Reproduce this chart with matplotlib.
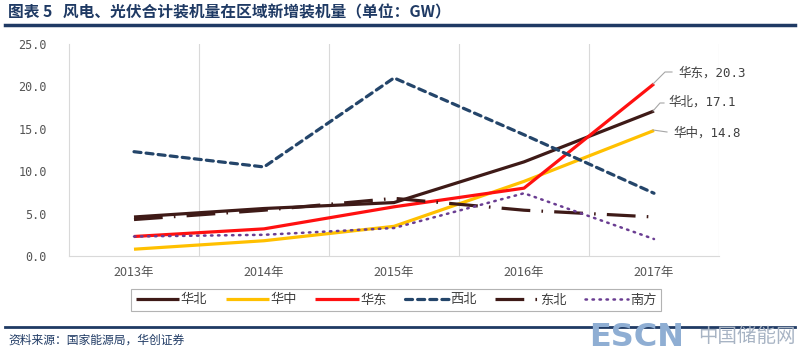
import matplotlib
matplotlib.use("Agg")
import matplotlib.pyplot as plt
from matplotlib.lines import Line2D

plt.rcParams['font.family'] = ['Noto Sans CJK SC', 'DejaVu Sans']

years = ['2013年', '2014年', '2015年', '2016年', '2017年']
huabei = [4.6, 5.6, 6.3, 11.1, 17.1]
huazhong = [0.8, 1.8, 3.5, 8.8, 14.8]
huadong = [2.3, 3.2, 5.8, 8.0, 20.3]
xibei = [12.3, 10.5, 21.0, 14.3, 7.4]
dongbei = [4.3, 5.4, 6.8, 5.4, 4.6]
nanfang = [2.3, 2.5, 3.3, 7.4, 2.0]
yticks = [0, 5, 10, 15, 20, 25]

fig = plt.figure(figsize=(8, 3.52), dpi=100)
ax = fig.add_axes([69/800, 1-256/352, 650/800, 212/352])

x = list(range(len(years)))
lw = 2.3
ax.plot(x, huabei, color='#3E1A17', lw=lw, label='华北', solid_capstyle='butt')
ax.plot(x, huazhong, color='#FFC000', lw=lw, label='华中', solid_capstyle='butt')
ax.plot(x, huadong, color='#FF1010', lw=lw, label='华东', solid_capstyle='butt')
ax.plot(x, xibei, color='#24456A', lw=lw, ls=(0, (2.2, 1.6)), label='西北', dash_capstyle='round')
ax.plot(x, dongbei, color='#3E1A17', lw=lw, ls=(0, (9, 3.5, 0.5, 3.5)), label='东北')
ax.plot(x, nanfang, color='#6A3D92', lw=1.8, ls=(0, (0.6, 2.2)), label='南方', dash_capstyle='round')

ax.set_xlim(-0.5, 4.5)
ax.set_ylim(0, 25)
ax.set_xticks(x)
ax.set_xticklabels(years, fontsize=9, color='#555555')
ax.set_yticks(yticks)
ax.set_yticklabels([f'{v:.1f}' for v in yticks], fontsize=8.5, color='#555555', family='DejaVu Sans Mono')
ax.set_xticks([0.5, 1.5, 2.5, 3.5, 4.5], minor=True)
ax.grid(True, which='minor', axis='x', color='#D9D9D9', lw=0.8)
ax.tick_params(which='both', length=0)
ax.tick_params(axis='y', pad=16)
ax.tick_params(axis='x', pad=7)
for s in ['top', 'right']:
    ax.spines[s].set_visible(False)
for s in ['left', 'bottom']:
    ax.spines[s].set_color('#D9D9D9')
    ax.spines[s].set_linewidth(0.8)

# data labels with leader lines
labels = [('华东', huadong[-1], (678, 73), [(653, 84), (665, 72), (672, 72)]),
          ('华北', huabei[-1], (668, 102), [(653, 111), (660, 103), (664, 103)]),
          ('华中', huazhong[-1], (673, 133), [(653, 130), (667, 132)])]
for name, v, (tx, ty), pts in labels:
    fig.text(tx/800, 1-ty/352, f'{name}，{v:.1f}', fontsize=9, color='#404040',
             va='center', ha='left', family=['DejaVu Sans Mono', 'Noto Sans CJK SC'])
    fig.add_artist(Line2D([p[0]/800 for p in pts], [1-p[1]/352 for p in pts],
                          color='#A6A6A6', lw=0.8, transform=fig.transFigure))

leg = fig.legend(*ax.get_legend_handles_labels(), loc='center', ncol=6,
                 bbox_to_anchor=(396/800, 1-300/352), fontsize=9.5, frameon=True,
                 fancybox=False, edgecolor='#A0A0A0', handlelength=3.3, handletextpad=0.1,
                 columnspacing=1.4, borderpad=0.35, borderaxespad=0)
leg.get_frame().set_linewidth(0.8)
for t in leg.get_texts():
    t.set_color('#404040')

# title and rules
fig.text(8/800, 1-12/352, '图表 5   风电、光伏合计装机量在区域新增装机量（单位：GW）',
         fontsize=11.3, fontweight='bold', color='#1F3A64', va='center', ha='left')
fig.add_artist(Line2D([5/800, 795/800], [1-25/352, 1-25/352], color='#1F3A64', lw=2.5,
                      transform=fig.transFigure))
fig.add_artist(Line2D([5/800, 795/800], [1-327/352, 1-327/352], color='#1F3A64', lw=2.0,
                      transform=fig.transFigure))
fig.text(8/800, 1-340/352, '资料来源：国家能源局，华创证券', fontsize=8.5, color='#1F3A64',
         va='center', ha='left', style='italic')
fig.text(589/800, 1-337/352, 'ESCN', fontsize=23, fontweight='bold', color='#8FAED3',
         va='center', ha='left', family='DejaVu Sans')
fig.text(796/800, 1-337/352, '中国储能网', fontsize=14, color='#A8B4C4',
         va='center', ha='right')

fig.savefig('out.png', dpi=100)
